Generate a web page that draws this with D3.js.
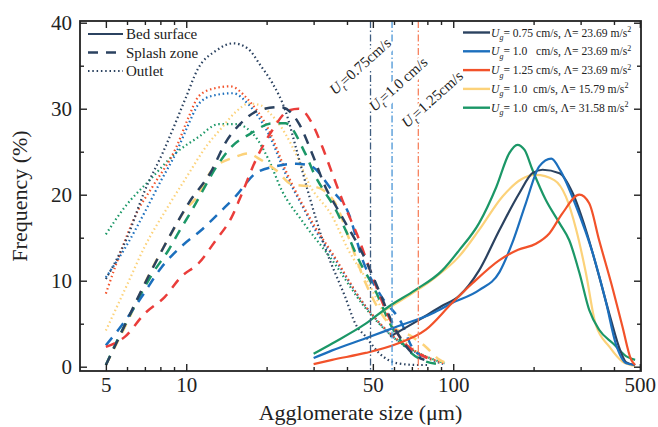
<!DOCTYPE html>
<html>
<head>
<meta charset="utf-8">
<script src="https://cdn.jsdelivr.net/npm/d3@7"></script>
<style>
  body { margin: 0; background: #fff; }
  svg { font-family: "Liberation Serif", "Times New Roman", serif; }
</style>
</head>
<body>
<svg id="chart" width="658" height="427"></svg>
<script>
// ---- data ----
const colors = ['#2b4260', '#1c6fbd', '#f2522a', '#fcd27a', '#1b9767'];
const dashRed = '#ea3d3a';

const ugLabels = ['0.75 cm/s, ', '1.0   cm/s, ', '1.25 cm/s, ', '1.0  cm/s, ', '1.0  cm/s, '];
const lambdaLabels = ['23.69', '23.69', '23.69', '15.79', '31.58'];

const locationLabels = ['Bed surface', 'Splash zone', 'Outlet'];

// terminal velocity lines (size in µm)
const terminalSizes = [49, 59, 74];
const terminalLabels = ['=0.75cm/s', '=1.0 cm/s', '=1.25cm/s'];

// bed surface (solid)
const bedNavy = [[58,3.5],[75,5.5],[90,7],[105,8.2],[125,11.2],[149,15.9],[177,20.2],[198,22.5],[216,22.9],[250,22.5],[280,20.2],[314,15.9],[352,10.5],[387,5.8],[422,1.9],[445,0.5],[480,0.2]];
const bedBlue = [[30,1.0],[35.2,1.9],[47,3.3],[62,4.7],[83.4,6.2],[99,7.4],[125,8.9],[149,11],[166,14.3],[187,19],[210,23.3],[233,24.2],[252,22.8],[289,18.6],[333,13.2],[374,7.4],[406,2.7],[445,0.4],[480,0.2]];
const bedRed = [[30,0.3],[35.2,0.8],[47,1.6],[62,2.7],[79,4.3],[99,7.4],[118,9.7],[149,12.4],[175,13.6],[204,14.3],[229,15.5],[256,17.8],[297,20],[323,19],[352,14.7],[397,8.9],[430,4.7],[464,0.8],[480,0.2]];
const bedYellow = [[55,6.5],[70,8.5],[85,10.3],[105,12.8],[125,15.9],[153,19.8],[180,21.8],[204,22.3],[239,21.7],[264,19.8],[289,15.9],[314,10.9],[341,5],[385,2.3],[430,0.6],[480,0.1]];
const bedGreen = [[30,1.5],[35.2,2.7],[47,5],[57.4,7],[72,8.9],[91,11.2],[105,13.5],[125,16.7],[145,20.9],[162,24.8],[174,25.8],[185,25.2],[198,22.9],[222,19.4],[250,16.7],[272,14.7],[297,10.9],[323,6.6],[352,4.3],[397,2.7],[445,1.2],[480,0.8]];

// splash zone (dashed)
const splashNavy = [[5,0.2],[5.7,3.9],[6.8,8.9],[8.2,13.8],[10.2,19],[12.5,22.9],[14,26],[16,28.3],[18.7,29.8],[22.5,30.2],[26.4,28.3],[29.6,24.8],[33.2,20.9],[37.4,18],[47,12.4],[52.6,8.9],[60,4.7],[70,1.6],[78,0.8]];
const splashBlue = [[5,2.5],[5.7,4.7],[6.8,8.1],[8.1,11.6],[9.6,14],[11.4,15.9],[13.6,18.2],[15.3,19.8],[18.2,22.5],[21.6,23.3],[25.8,23.6],[29,23.4],[35.2,20.5],[40.6,17.8],[45.8,12.4],[54,8.1],[64.2,5],[70,2.3],[76,1.2]];
const splashRed = [[5,2.3],[5.9,3.5],[7,6.2],[8.3,8.1],[9.6,10.5],[11.1,12],[12.9,14.7],[14.8,17.4],[16,19.8],[18.2,24],[21,27.5],[24.2,29.8],[26.4,30],[29.6,28.3],[32.3,25.6],[35.2,22.5],[38.4,19.4],[44.5,14.7],[49.8,10.5],[55.8,6.6],[64.2,3.1],[73.5,1.6],[80,1]];
const splashYellow = [[5,0.2],[6.1,5.6],[7.2,10.5],[8.8,15.5],[9.8,18],[11,19.8],[12.5,22.9],[15.3,24.4],[17.1,24.8],[18.7,24.2],[21.6,22.9],[24.9,21.2],[30.5,20.9],[36.2,19],[40.6,15],[47,9.7],[57.4,5],[70,3.5],[79,2.3],[89,0.8],[95,0.4]];
const splashGreen = [[5,0.2],[5.6,3.5],[6.2,6.2],[7.5,10.9],[8.6,13.6],[9.4,15.7],[10.5,18.2],[13.2,23.6],[14.8,25.6],[17.4,27.1],[21,28.3],[23.5,28.3],[27.9,24.8],[30.5,22.1],[33.2,20.2],[35.5,18.8],[39.5,15.9],[44.3,12.4],[51,8.9],[58.7,4.7],[68,1.9],[79,0.6],[90,0.3]];

// outlet (dotted)
const outletNavy = [[5,10.2],[6,15],[7,20.5],[8.2,25],[10,31.4],[11,34.5],[13,36.8],[15,37.6],[17,37],[19,35],[21,33],[23.5,29.8],[26,25],[28.5,20.5],[33,14],[39.5,8],[43,5],[47,3.5],[52.7,1.6],[61.7,0.4],[73,0.2],[80,0.2]];
const outletBlue = [[5,10.4],[5.9,13.8],[7,18],[8,21.5],[9.2,25],[10.2,28.2],[11.1,30.5],[12.5,31.5],[15,31.8],[17.1,30.5],[20.4,27],[23.5,22.5],[27.1,18.8],[30.3,16],[35.2,13],[47,7],[62,3],[79,1.1],[92,0.3]];
const outletRed = [[5,8.5],[5.9,14.7],[6.6,18.2],[7.5,21],[9.2,25.6],[10.2,29],[11.1,31.4],[12.5,32.3],[14.6,32.6],[17.1,31],[20.4,27.5],[23.5,22.9],[27.1,19],[30.3,16.3],[35.2,13.2],[47,7],[62,3.1],[79,1.2],[92,0.4]];
const outletYellow = [[5,4.2],[6,9.5],[7,14],[8.5,18.5],[10,22],[12,25.8],[13.6,27.8],[15.3,29.6],[17.2,30.6],[19,30.4],[20.4,29.6],[23.5,27.1],[26.4,24],[28.8,21.3],[35.2,17.5],[40.6,13.5],[47,10.3],[58.7,4.8],[72,1.9],[91,0.3]];
const outletGreen = [[5,15.4],[5.9,18.6],[7.4,21.9],[9.1,24.8],[11.1,26.7],[13.2,28.2],[15.3,28.2],[18.2,26.7],[20.4,24],[22.8,20.5],[27.1,17],[35,12.5],[47,6.8],[62,3],[79,1.2],[93,0.4]];

// axis ticks
const xMajor = [5, 10, 50, 100, 500];
const xMinor = [6, 7, 8, 9, 20, 30, 40, 60, 70, 80, 90, 200, 300, 400];
const yMajor = [0, 10, 20, 30, 40];
const yMinor = [5, 15, 25, 35];

// ---- drawing ----
const svg = d3.select('#chart');
const L = 80, R = 641, T = 21, B = 371;

const x = d3.scaleLog().domain([4, 505]).range([L, R]);
const y = d3.scaleLinear().domain([-0.5, 40.2]).range([B, T]);

const line = d3.line()
  .x(d => x(d[0]))
  .y(d => y(d[1]))
  .curve(d3.curveMonotoneX);

const plot = svg.append('g');

// series
const series = [
  { data: outletGreen, color: colors[4], style: 'dot' },
  { data: outletYellow, color: colors[3], style: 'dot' },
  { data: outletBlue, color: colors[1], style: 'dot' },
  { data: outletRed, color: colors[2], style: 'dot' },
  { data: outletNavy, color: colors[0], style: 'dot' },
  { data: splashYellow, color: colors[3], style: 'dash' },
  { data: splashGreen, color: colors[4], style: 'dash' },
  { data: splashBlue, color: colors[1], style: 'dash' },
  { data: splashRed, color: dashRed, style: 'dash' },
  { data: splashNavy, color: colors[0], style: 'dash' },
  { data: bedYellow, color: colors[3], style: 'solid' },
  { data: bedGreen, color: colors[4], style: 'solid' },
  { data: bedNavy, color: colors[0], style: 'solid' },
  { data: bedBlue, color: colors[1], style: 'solid' },
  { data: bedRed, color: colors[2], style: 'solid' },
];

function styleLine(sel, style) {
  if (style === 'dash') {
    sel.attr('stroke-width', 2.5).attr('stroke-dasharray', '10,8');
  } else if (style === 'dot') {
    sel.attr('stroke-width', 2.2).attr('stroke-dasharray', '1.5,2.8');
  } else {
    sel.attr('stroke-width', 2.2);
  }
  return sel;
}

series.forEach(s => {
  plot.append('path')
    .attr('d', line(s.data))
    .attr('fill', 'none')
    .attr('stroke', s.color)
    .call(styleLine, s.style);
});

// terminal velocity lines
const tColors = ['#3f5d80', '#4a95d6', '#f7825e'];
terminalSizes.forEach((d, i) => {
  plot.append('line')
    .attr('x1', x(d)).attr('x2', x(d))
    .attr('y1', T).attr('y2', B)
    .attr('stroke', tColors[i])
    .attr('stroke-width', 1.3)
    .attr('stroke-dasharray', '7,2.5,1.5,2.5');
});

const labelPos = [[360, 66], [398, 84], [432, 99]];
terminalLabels.forEach((t, i) => {
  const g = svg.append('g')
    .attr('transform', `translate(${labelPos[i][0]},${labelPos[i][1]}) rotate(-42)`);
  const txt = g.append('text')
    .attr('text-anchor', 'middle')
    .attr('dy', '0.35em')
    .attr('font-size', 15)
    .attr('fill', '#222');
  txt.append('tspan').attr('font-style', 'italic').text('U');
  txt.append('tspan').attr('font-style', 'italic').attr('font-size', 10).attr('dy', 4).text('t');
  txt.append('tspan').attr('dy', -4).text(t);
  const bb = txt.node().getBBox();
  g.insert('rect', 'text')
    .attr('x', bb.x - 1).attr('y', bb.y + 2)
    .attr('width', bb.width + 2).attr('height', bb.height - 3)
    .attr('fill', '#fff');
});

// axes (ticks pointing inward)
const axisColor = '#222';
function drawAxis(axis, transform, withLabels) {
  const g = svg.append('g').attr('transform', transform).call(axis);
  g.select('.domain').remove();
  g.selectAll('.tick line').attr('stroke', axisColor).attr('stroke-width', 1.4);
  g.selectAll('.tick text').attr('fill', '#222').attr('font-size', 21)
    .attr('font-family', '"Liberation Serif", "Times New Roman", serif');
  if (!withLabels) g.selectAll('.tick text').remove();
  return g;
}

drawAxis(d3.axisBottom(x).tickValues(xMajor).tickSize(-7).tickPadding(6).tickFormat(d3.format('d')), `translate(0,${B})`, true);
drawAxis(d3.axisBottom(x).tickValues(xMinor).tickSize(-4), `translate(0,${B})`, false);
drawAxis(d3.axisTop(x).tickValues(xMajor).tickSize(-7), `translate(0,${T})`, false);
drawAxis(d3.axisTop(x).tickValues(xMinor).tickSize(-4), `translate(0,${T})`, false);

drawAxis(d3.axisLeft(y).tickValues(yMajor).tickSize(-7).tickPadding(8), `translate(${L},0)`, true);
drawAxis(d3.axisLeft(y).tickValues(yMinor).tickSize(-4), `translate(${L},0)`, false);
drawAxis(d3.axisRight(y).tickValues(yMajor).tickSize(-7), `translate(${R},0)`, false);
drawAxis(d3.axisRight(y).tickValues(yMinor).tickSize(-4), `translate(${R},0)`, false);

svg.append('rect')
  .attr('x', L).attr('y', T)
  .attr('width', R - L).attr('height', B - T)
  .attr('fill', 'none')
  .attr('stroke', axisColor)
  .attr('stroke-width', 1.8);

// axis titles
svg.append('text')
  .attr('x', (L + R) / 2).attr('y', 420)
  .attr('text-anchor', 'middle')
  .attr('font-size', 22)
  .attr('fill', '#222')
  .text('Agglomerate size (μm)');

svg.append('text')
  .attr('transform', `translate(27,${(T + B) / 2}) rotate(-90)`)
  .attr('text-anchor', 'middle')
  .attr('font-size', 22)
  .attr('fill', '#222')
  .text('Frequency (%)');

// location legend (top left)
const locStyles = ['solid', 'dash', 'dot'];
locationLabels.forEach((t, i) => {
  const yy = 34 + i * 18.5;
  svg.append('line')
    .attr('x1', 88).attr('x2', 123)
    .attr('y1', yy).attr('y2', yy)
    .attr('stroke', colors[0])
    .call(styleLine, locStyles[i]);
  svg.append('text')
    .attr('x', 126).attr('y', yy + 5)
    .attr('font-size', 15)
    .attr('fill', '#222')
    .text(t);
});

// condition legend (top right)
ugLabels.forEach((t, i) => {
  const yy = 32.5 + i * 18.8;
  svg.append('line')
    .attr('x1', 463).attr('x2', 490)
    .attr('y1', yy).attr('y2', yy)
    .attr('stroke', colors[i])
    .attr('stroke-width', 2.4);
  const txt = svg.append('text')
    .attr('x', 491).attr('y', yy + 4)
    .attr('font-size', 11.6)
    .attr('fill', '#222')
    .style('white-space', 'pre');
  txt.append('tspan').attr('font-style', 'italic').text('U');
  txt.append('tspan').attr('font-style', 'italic').attr('font-size', 8).attr('dy', 3.5).text('g');
  txt.append('tspan').attr('dy', -3.5).text('= ' + t + 'Λ= ' + lambdaLabels[i] + ' m/s');
  txt.append('tspan').attr('font-size', 8).attr('dy', -4.5).text('2');
});
</script>
</body>
</html>
